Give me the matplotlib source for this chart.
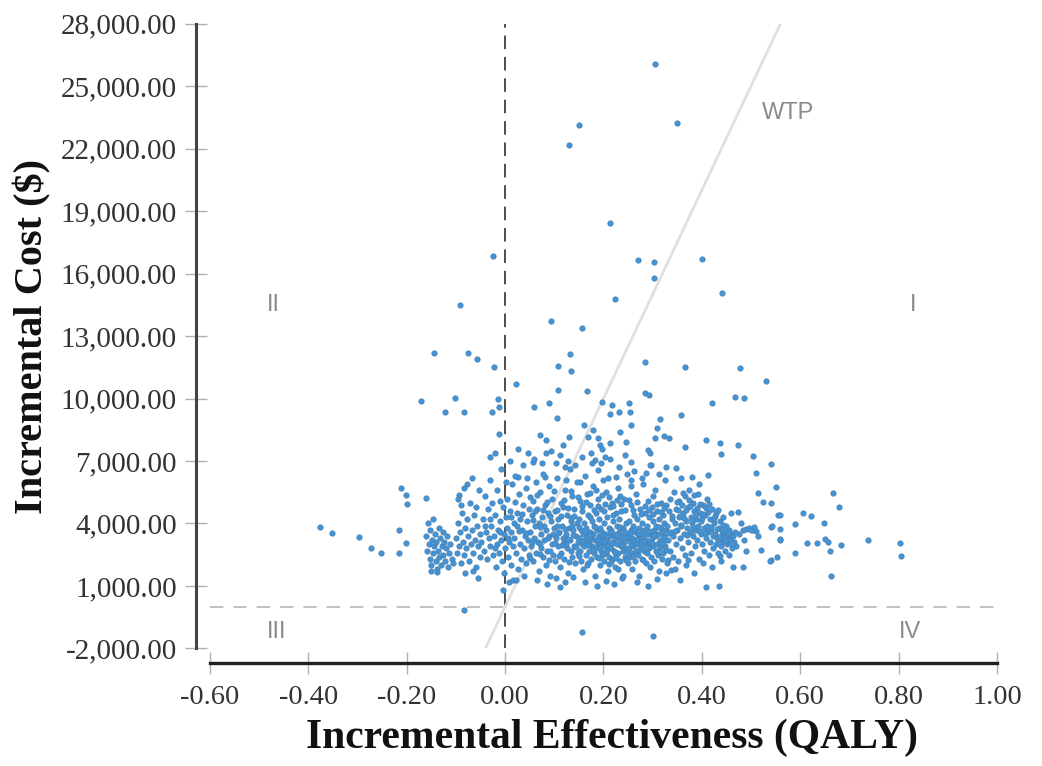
import matplotlib
matplotlib.use("Agg")
import matplotlib.pyplot as plt
import numpy as np

plt.rcParams['font.family'] = ['Liberation Serif', 'DejaVu Serif']

# incremental effectiveness (QALY), incremental cost ($)
outlier_points = [
    (0.305, 26050), (0.150, 23130), (0.350, 23220), (0.130, 22170), (0.213, 18420),
    (0.270, 16650), (0.303, 16550), (0.400, 16700), (0.303, 15780), (0.224, 14780),
    (0.440, 15060), (0.094, 13720), (0.156, 13380), (0.132, 12140), (0.108, 11560),
    (0.134, 11320), (0.284, 11750), (0.365, 11510), (0.478, 11460), (0.530, 10840),
    (0.023, 10700), (0.108, 10400), (0.167, 10360), (0.284, 10260), (0.467, 10070),
    (-0.024, 16840), (-0.091, 14490), (-0.144, 12180), (-0.075, 12180), (-0.057, 11900),
    (-0.022, 11510), (-0.171, 9880), (-0.102, 10020), (-0.122, 9350), (-0.083, 9350),
    (-0.026, 9350), (-0.015, 10000), (-0.012, 9600), (-0.012, 8300), (-0.030, 7200),
    (0.157, -1210), (0.300, -1400), (-0.084, -150),
]

left_points = [
    (-0.211, 5700), (-0.201, 5370), (-0.199, 4940), (-0.160, 5220), (-0.376, 3830),
    (-0.352, 3540), (-0.297, 3350), (-0.273, 2820), (-0.252, 2580), (-0.216, 2580),
    (-0.216, 3690), (-0.201, 3060), (-0.093, 5370), (-0.089, 4890), (-0.077, 5910),
    (-0.160, 3400), (-0.158, 2700), (-0.157, 4000), (-0.155, 3000), (-0.153, 2300),
    (-0.152, 3700), (-0.150, 2000), (-0.149, 3200), (-0.147, 2600), (-0.146, 4200),
    (-0.144, 2900), (-0.143, 3500), (-0.141, 2200), (-0.140, 3100), (-0.138, 1800),
    (-0.137, 2700), (-0.135, 3800), (-0.134, 2400), (-0.132, 3300), (-0.131, 2000),
    (-0.129, 2900), (-0.127, 3600), (-0.126, 2500), (-0.124, 3100), (-0.122, 2200),
    (-0.120, 2800), (-0.118, 3400), (-0.116, 1900), (-0.114, 2600), (-0.111, 3000),
    (-0.108, 2300), (-0.105, 2100), (-0.150, 1700), (-0.138, 1650),
    (-0.100, 3300), (-0.098, 2600), (-0.096, 4000), (-0.094, 2900), (-0.092, 3600),
    (-0.090, 2100), (-0.088, 4500), (-0.086, 3100), (-0.084, 2500), (-0.082, 3800),
    (-0.080, 2800), (-0.078, 4200), (-0.076, 3400), (-0.074, 2200), (-0.072, 5000),
    (-0.070, 3000), (-0.068, 3700), (-0.066, 2600), (-0.064, 4400), (-0.062, 3200),
    (-0.060, 1900), (-0.058, 3900), (-0.056, 2900), (-0.054, 5600), (-0.052, 3500),
    (-0.051, 2400), (-0.095, 5200), (-0.083, 5700), (-0.067, 6200), (-0.059, 4800),
    (-0.081, 1600), (-0.065, 1700), (-0.055, 1400),
]

upper_points = [
    (0.059, 9590), (0.089, 9780), (0.106, 9060), (0.197, 9830), (0.218, 9690),
    (0.252, 9780), (0.232, 9350), (0.213, 9260), (0.254, 9350), (0.161, 8730),
    (0.179, 8490), (0.233, 8400), (0.256, 8730), (0.071, 8250), (0.084, 8010),
    (0.130, 8160), (0.118, 7770), (0.169, 8160), (0.189, 8110), (0.193, 7770),
    (0.213, 7870), (0.246, 7920), (0.047, 7380), (0.084, 7380), (0.057, 6950),
    (0.104, 6900), (0.122, 6710), (0.175, 7380), (0.183, 7040), (0.195, 6900),
    (0.189, 6560), (0.203, 7190), (0.256, 6950), (0.295, 7380), (0.287, 6420),
    (0.026, 6230), (0.081, 6230), (0.124, 6090), (0.152, 5990), (0.226, 6230),
    (0.256, 6090), (0.293, 10170), (0.420, 9780), (0.486, 10020), (0.358, 9200),
    (0.315, 9010), (0.309, 8590), (0.323, 8200), (0.333, 8100), (0.305, 8100),
    (0.291, 7530), (0.366, 7670), (0.409, 8010), (0.437, 7860), (0.474, 7760),
    (0.439, 7330), (0.297, 6810), (0.327, 6710), (0.348, 6660), (0.380, 6230),
    (0.413, 6330), (0.504, 7240), (0.541, 6850), (0.510, 6420),
]

tail_points = [
    (0.551, 5750), (0.514, 5460), (0.524, 5030), (0.541, 4980), (0.459, 4500),
    (0.474, 4550), (0.484, 3690), (0.504, 3690), (0.541, 3830), (0.555, 4400),
    (0.559, 3210), (0.520, 2730), (0.541, 2250), (0.463, 1910), (0.484, 1910),
    (0.437, 2440), (0.409, 950), (0.435, 1000), (0.356, 1290), (0.337, 1770),
    (0.331, 2250), (0.372, 2250), (0.667, 5460), (0.679, 4790), (0.606, 4500),
    (0.622, 4360), (0.559, 4410), (0.648, 4020), (0.589, 3970), (0.543, 3880),
    (0.559, 3740), (0.559, 3260), (0.650, 3260), (0.614, 3060), (0.634, 3060),
    (0.656, 3110), (0.683, 2970), (0.660, 2680), (0.738, 3210), (0.803, 3060),
    (0.805, 2440), (0.589, 2580), (0.553, 2390), (0.539, 2200), (0.663, 1480),
    (0.490, 3750), (0.495, 3800), (0.500, 3700), (0.505, 3850), (0.510, 3650),
    (0.475, 3500), (0.480, 4000), (0.485, 3200), (0.490, 2700), (0.515, 3400),
]

core_points = [
    # x -0.05 .. 0.05
    (-0.048, 3100), (-0.045, 4200), (-0.043, 2700), (-0.041, 5300), (-0.039, 3600),
    (-0.037, 2300), (-0.035, 4700), (-0.033, 3300), (-0.031, 6100), (-0.030, 2900),
    (-0.028, 3900), (-0.026, 5000), (-0.024, 2500), (-0.022, 3400), (-0.021, 4400),
    (-0.019, 1900), (-0.017, 3000), (-0.016, 5600), (-0.014, 3700), (-0.012, 2600),
    (-0.011, 4100), (-0.009, 6600), (-0.008, 3200), (-0.006, 2200), (-0.005, 4800),
    (-0.003, 3500), (-0.002, 1600), (0.000, 2800), (0.001, 4300), (0.003, 3800),
    (0.004, 5200), (0.006, 2400), (0.007, 3100), (0.009, 7000), (0.010, 4600),
    (0.012, 2000), (0.013, 3600), (0.015, 5900), (0.016, 2900), (0.018, 4000),
    (0.019, 3300), (0.021, 6300), (0.022, 2600), (0.024, 4500), (0.025, 3900),
    (0.027, 1800), (0.028, 5400), (0.030, 3000), (0.031, 4200), (0.033, 2300),
    (0.034, 3700), (0.036, 6800), (0.037, 4900), (0.039, 2800), (0.040, 3400),
    (0.042, 5700), (0.043, 2100), (0.045, 4100), (0.046, 3200), (0.048, 4700),
    (0.049, 2500), (0.008, 1200), (-0.020, 7400), (0.026, 7600), (0.044, 6200),
    (-0.004, 800), (0.017, 1300), (0.038, 1500), (0.002, 6000), (-0.010, 5100),
    (0.022, 1290), (0.112, 950),
    # x 0.05 .. 0.15
    (0.051, 3600), (0.053, 2900), (0.054, 4400), (0.056, 5100), (0.057, 2200),
    (0.059, 3300), (0.060, 3900), (0.062, 6000), (0.063, 2600), (0.065, 4700),
    (0.066, 3100), (0.068, 1700), (0.069, 4000), (0.071, 5500), (0.072, 2800),
    (0.074, 3500), (0.075, 4300), (0.077, 2400), (0.078, 6400), (0.080, 3200),
    (0.081, 4900), (0.083, 2000), (0.084, 3700), (0.086, 2700), (0.087, 4500),
    (0.089, 5800), (0.090, 3400), (0.092, 1500), (0.093, 4100), (0.095, 3000),
    (0.096, 5200), (0.098, 2500), (0.099, 3800), (0.101, 4600), (0.102, 2200),
    (0.104, 3300), (0.105, 6200), (0.107, 2900), (0.108, 4200), (0.110, 3600),
    (0.111, 1900), (0.113, 5000), (0.114, 2600), (0.116, 3900), (0.117, 4800),
    (0.119, 3100), (0.120, 2300), (0.122, 5600), (0.123, 3500), (0.125, 4400),
    (0.126, 2800), (0.128, 1600), (0.129, 3800), (0.131, 6600), (0.132, 3200),
    (0.134, 4100), (0.135, 2400), (0.137, 5300), (0.138, 3700), (0.140, 2900),
    (0.141, 4700), (0.143, 2100), (0.144, 3400), (0.146, 6000), (0.147, 4000),
    (0.149, 2600), (0.058, 7100), (0.076, 6900), (0.094, 7500), (0.112, 7300),
    (0.127, 7000), (0.142, 6800), (0.064, 1300), (0.085, 1100), (0.103, 1400),
    (0.121, 1200), (0.139, 1450), (0.070, 3000), (0.091, 2700), (0.118, 3300),
    (0.133, 2700), (0.097, 3500), (0.079, 3900), (0.061, 4600), (0.148, 3100),
    (0.106, 3900), (0.124, 3000), (0.088, 3300), (0.136, 3900), (0.055, 3100),
    # x 0.15 .. 0.25
    (0.150, 3300), (0.151, 4200), (0.152, 2700), (0.153, 5100), (0.154, 3700),
    (0.155, 2200), (0.156, 3000), (0.157, 4600), (0.158, 3500), (0.159, 1800),
    (0.160, 2900), (0.161, 4000), (0.162, 6300), (0.163, 3200), (0.164, 2500),
    (0.165, 3800), (0.166, 5400), (0.167, 3400), (0.168, 2100), (0.169, 4400),
    (0.170, 3100), (0.171, 2700), (0.172, 3600), (0.173, 4900), (0.174, 2300),
    (0.175, 3300), (0.176, 4100), (0.177, 2900), (0.178, 5800), (0.179, 3500),
    (0.180, 2600), (0.181, 3900), (0.182, 1500), (0.183, 3200), (0.184, 4500),
    (0.185, 2800), (0.186, 3700), (0.187, 2400), (0.188, 5200), (0.189, 3000),
    (0.190, 4200), (0.191, 3400), (0.192, 2000), (0.193, 3800), (0.194, 2700),
    (0.195, 4700), (0.196, 3100), (0.197, 2500), (0.198, 3600), (0.199, 6100),
    (0.200, 3300), (0.201, 2200), (0.202, 4000), (0.203, 2900), (0.204, 3500),
    (0.205, 5500), (0.206, 2600), (0.207, 3200), (0.208, 4300), (0.209, 1700),
    (0.210, 3000), (0.211, 3800), (0.212, 2400), (0.213, 4800), (0.214, 3400),
    (0.215, 2800), (0.216, 3700), (0.217, 5000), (0.218, 2300), (0.219, 3100),
    (0.220, 4100), (0.221, 2700), (0.222, 3500), (0.223, 1900), (0.224, 3300),
    (0.225, 4500), (0.226, 2500), (0.227, 3900), (0.228, 3000), (0.229, 5700),
    (0.230, 2600), (0.231, 3600), (0.232, 4200), (0.233, 2200), (0.234, 3200),
    (0.235, 2900), (0.236, 4600), (0.237, 3400), (0.238, 1400), (0.239, 3800),
    (0.240, 2700), (0.241, 3100), (0.242, 5200), (0.243, 2400), (0.244, 3600),
    (0.245, 4000), (0.246, 2800), (0.247, 3300), (0.248, 6400), (0.249, 2100),
    (0.157, 7200), (0.176, 6900), (0.196, 7600), (0.214, 7100), (0.231, 6700),
    (0.244, 7300), (0.163, 1200), (0.186, 1000), (0.205, 1250), (0.221, 1100),
    (0.240, 1500), (0.167, 2000), (0.211, 2050), (0.229, 1800), (0.172, 4300),
    (0.201, 4600), (0.219, 4400), (0.185, 5600), (0.234, 5300), (0.210, 6200),
    # x 0.25 .. 0.33
    (0.250, 3400), (0.251, 2800), (0.252, 4100), (0.253, 3100), (0.254, 2400),
    (0.255, 3700), (0.256, 4900), (0.257, 2600), (0.258, 3300), (0.259, 1800),
    (0.260, 3900), (0.261, 2900), (0.262, 4400), (0.263, 3200), (0.264, 2200),
    (0.265, 3600), (0.266, 5400), (0.267, 2700), (0.268, 3000), (0.269, 4200),
    (0.270, 3500), (0.271, 2500), (0.272, 3800), (0.273, 1500), (0.274, 3300),
    (0.275, 4700), (0.276, 2900), (0.277, 3100), (0.278, 4000), (0.279, 2300),
    (0.280, 3400), (0.281, 5900), (0.282, 2700), (0.283, 3700), (0.284, 3000),
    (0.285, 4500), (0.286, 2100), (0.287, 3200), (0.288, 3900), (0.289, 2600),
    (0.290, 5100), (0.291, 3500), (0.292, 2800), (0.293, 4300), (0.294, 3100),
    (0.295, 1900), (0.296, 3600), (0.297, 2400), (0.298, 4800), (0.299, 3300),
    (0.300, 2900), (0.301, 4100), (0.302, 3700), (0.303, 2200), (0.304, 5600),
    (0.305, 3400), (0.306, 2700), (0.307, 3900), (0.308, 3000), (0.309, 4600),
    (0.310, 2500), (0.311, 3500), (0.312, 1700), (0.313, 4200), (0.314, 3200),
    (0.315, 2800), (0.316, 5000), (0.317, 3800), (0.318, 2300), (0.319, 3600),
    (0.320, 4400), (0.321, 3100), (0.322, 2600), (0.323, 4000), (0.324, 3400),
    (0.325, 6100), (0.326, 2900), (0.327, 3700), (0.328, 4900), (0.329, 2100),
    (0.262, 6500), (0.278, 6200), (0.295, 6800), (0.312, 6400), (0.268, 1200),
    (0.291, 1000), (0.309, 1350), (0.327, 1600), (0.256, 5800), (0.300, 5300),
    # x 0.33 .. 0.47
    (0.330, 3900), (0.332, 3200), (0.333, 4600), (0.335, 2700), (0.336, 5200),
    (0.338, 3600), (0.339, 4200), (0.341, 2400), (0.342, 3400), (0.344, 5500),
    (0.345, 4000), (0.347, 3000), (0.348, 4700), (0.350, 3700), (0.351, 2200),
    (0.353, 5100), (0.354, 4300), (0.356, 3300), (0.357, 3900), (0.359, 2800),
    (0.360, 4900), (0.362, 4500), (0.363, 3500), (0.365, 5300), (0.366, 2500),
    (0.368, 4100), (0.369, 3800), (0.371, 3100), (0.372, 4800), (0.374, 5600),
    (0.375, 3600), (0.377, 4300), (0.378, 2600), (0.380, 4000), (0.381, 3400),
    (0.383, 5000), (0.384, 4600), (0.386, 2900), (0.387, 3700), (0.389, 4200),
    (0.390, 3200), (0.392, 5400), (0.393, 3900), (0.395, 2300), (0.396, 4500),
    (0.398, 3500), (0.399, 4100), (0.401, 3000), (0.402, 4900), (0.404, 3800),
    (0.405, 2700), (0.407, 4400), (0.408, 3300), (0.410, 3900), (0.411, 5200),
    (0.413, 3600), (0.414, 2500), (0.416, 4200), (0.417, 3100), (0.419, 3700),
    (0.420, 4700), (0.422, 3400), (0.423, 2800), (0.425, 4000), (0.426, 3500),
    (0.428, 3000), (0.429, 4500), (0.431, 3300), (0.432, 2600), (0.434, 3800),
    (0.435, 3200), (0.437, 4100), (0.438, 2900), (0.440, 3500), (0.441, 3700),
    (0.443, 3100), (0.444, 4300), (0.446, 3400), (0.447, 2700), (0.449, 3600),
    (0.450, 3900), (0.452, 3000), (0.453, 3300), (0.455, 3700), (0.456, 2500),
    (0.458, 3200), (0.460, 3500), (0.462, 2800), (0.464, 3400), (0.466, 3100),
    (0.468, 3600), (0.470, 2900), (0.346, 1800), (0.367, 2000), (0.385, 1600),
    (0.403, 2100), (0.421, 1900), (0.439, 2200), (0.357, 6200), (0.394, 5900),
]

# extra points where the reference cloud is almost solid
dense_points = [
    (0.102, 3050), (0.108, 3550), (0.115, 2950), (0.121, 3750), (0.127, 3250),
    (0.133, 4250), (0.139, 3450), (0.145, 2850), (0.151, 3850), (0.157, 3150),
    (0.162, 3650), (0.168, 2950), (0.173, 3450), (0.178, 2750), (0.183, 3850),
    (0.188, 3250), (0.193, 2850), (0.198, 3450), (0.203, 3150), (0.208, 2750),
    (0.213, 3600), (0.218, 3050), (0.223, 2650), (0.228, 3450), (0.233, 3850),
    (0.238, 2950), (0.243, 3350), (0.248, 2650), (0.253, 3550), (0.258, 2950),
    (0.263, 3750), (0.268, 3250), (0.273, 2750), (0.278, 3550), (0.283, 3150),
    (0.288, 2850), (0.293, 3650), (0.298, 3050), (0.303, 3450), (0.308, 2650),
    (0.313, 3850), (0.318, 3050), (0.323, 3350), (0.328, 2750), (0.334, 3550),
    (0.340, 4350), (0.346, 3650), (0.352, 4650), (0.358, 3950), (0.364, 4250),
    (0.370, 3450), (0.376, 4850), (0.382, 3850), (0.388, 4450), (0.394, 3650),
    (0.400, 4250), (0.406, 3550), (0.412, 4550), (0.418, 3850), (0.424, 4250),
    (0.430, 3750), (0.436, 3350), (0.442, 3950), (0.448, 3150), (0.454, 3550),
    (0.460, 3050), (0.349, 5050), (0.361, 5450), (0.373, 5150), (0.385, 5350),
    (0.397, 4950), (0.409, 4750), (0.355, 4350), (0.367, 4650), (0.379, 4150),
    (0.391, 4750), (0.403, 4450), (0.415, 4950), (0.427, 4350), (0.433, 4650),
    (0.012, 4300), (0.020, 5050), (0.028, 3650), (0.035, 4450), (0.043, 3550),
    (0.050, 5250), (0.057, 4150), (0.064, 5350), (0.071, 3850), (0.078, 4650),
    (0.085, 5050), (0.092, 4350), (0.099, 5550), (0.106, 4650), (0.113, 4350),
    (0.120, 5150), (0.127, 4750), (0.134, 5550), (0.141, 4350), (0.148, 5250),
    (0.156, 4850), (0.164, 5050), (0.172, 5450), (0.180, 4650), (0.188, 4850),
    (0.196, 5350), (0.204, 4950), (0.212, 5250), (0.220, 4850), (0.228, 5150),
    (0.236, 4950), (0.244, 4650), (0.252, 5150), (0.260, 4650), (0.268, 5050),
    (0.276, 4450), (0.284, 4850), (0.292, 4650), (0.300, 4450), (0.308, 4950),
    (0.316, 4550), (0.324, 4750), (0.190, 2350), (0.200, 2550), (0.215, 2150),
    (0.225, 2350), (0.245, 2250), (0.260, 2450), (0.280, 2250), (0.150, 2450),
    (0.130, 2150), (0.110, 2450), (0.090, 2250), (0.070, 2550), (0.050, 2350),
    (-0.010, 3600), (-0.030, 4200), (-0.020, 2800), (0.005, 3300), (-0.040, 3900),
]

wtp = 50000            # $ per QALY
wtp_range = [-0.04, 0.56]

x_ticks = [-0.6, -0.4, -0.2, 0.0, 0.2, 0.4, 0.6, 0.8, 1.0]
y_ticks = [-2000, 1000, 4000, 7000, 10000, 13000, 16000, 19000, 22000, 25000, 28000]

quadrants = [('II', -0.472, 14500), ('I', 0.829, 14500),
             ('III', -0.465, -1230), ('IV', 0.823, -1230)]

pts = np.array(outlier_points + left_points + upper_points + tail_points
               + core_points + dense_points)

fig = plt.figure(figsize=(10.42, 7.66), dpi=100)
ax = fig.add_axes([0.2015, 0.1534, 0.7553, 0.8159])

ax.axvline(0, color='#4d4d4d', lw=1.4, linestyle=(0, (7, 4)), zorder=1)
ax.axhline(0, color='#b5b5b5', lw=1.2, linestyle=(0, (8, 6)), zorder=1)
wx = np.array(wtp_range)
ax.plot(wx, wtp * wx, color='#e0e0e0', lw=2.0, zorder=1)

ax.scatter(pts[:, 0], pts[:, 1], s=15, c='#3f94da', edgecolors='#4f7fa8',
           linewidths=0.5, zorder=3)

for lab, qx, qy in quadrants:
    ax.text(qx, qy, lab, ha='center', va='center', fontsize=17, color='#8a8a8a',
            family=['Liberation Sans', 'DejaVu Sans'])
ax.text(0.575, 23700, 'WTP', ha='center', va='center', fontsize=17, color='#8a8a8a',
        family=['Liberation Sans', 'DejaVu Sans'])

ax.set_xlim(-0.6, 1.0)
ax.set_ylim(-2000, 28000)
ax.set_xticks(x_ticks)
ax.set_yticks(y_ticks)
ax.set_xticklabels(['%.2f' % v for v in x_ticks])
ax.set_yticklabels(['{:,.2f}'.format(v) for v in y_ticks])

for s in ['top', 'right']:
    ax.spines[s].set_visible(False)
ax.spines['left'].set_position(('outward', 10))
ax.spines['bottom'].set_position(('outward', 10.5))
ax.spines['left'].set_color('#444444')
ax.spines['left'].set_linewidth(2.2)
ax.spines['bottom'].set_color('#222222')
ax.spines['bottom'].set_linewidth(2.4)

ax.tick_params(axis='y', direction='inout', length=16, width=1, color='#b0b0b0',
               pad=6, labelsize=21, labelcolor='#333333')
ax.tick_params(axis='x', direction='inout', length=16, width=1, color='#b0b0b0',
               pad=8, labelsize=20.5, labelcolor='#333333')

ax.set_xlabel('Incremental Effectiveness (QALY)', fontsize=30, fontweight='bold',
              va='center', color='#111111')
ax.set_ylabel('Incremental Cost ($)', fontsize=29, fontweight='bold',
              va='center', color='#111111')
ax.xaxis.set_label_coords(0.511, -0.143)
ax.yaxis.set_label_coords(-0.226, 0.5)

fig.savefig('out.png', dpi=100)
